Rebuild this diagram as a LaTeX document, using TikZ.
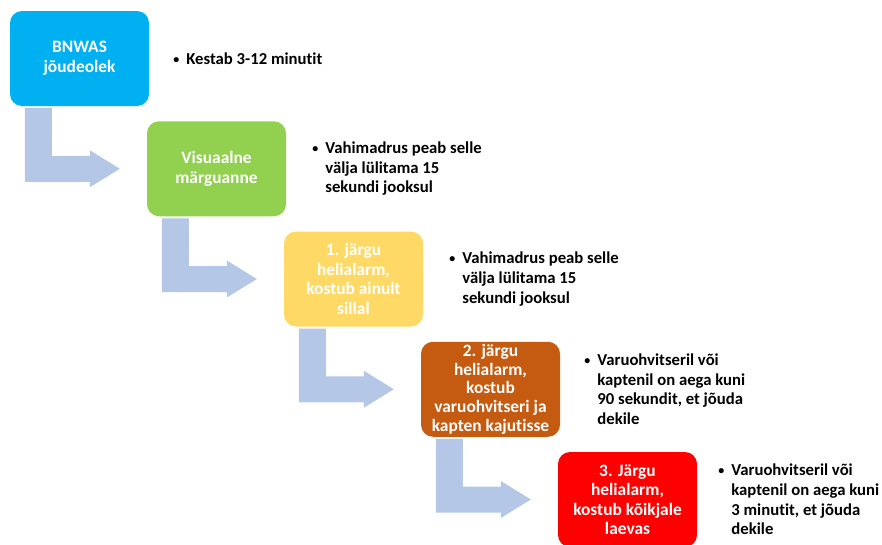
\documentclass[tikz,border=0pt]{standalone}
\usepackage{fontspec}
\setmainfont{Carlito}[Ligatures=NoCommon]
\usetikzlibrary{positioning,calc}

\definecolor{idleblue}{HTML}{00B0F0}
\definecolor{visgreen}{HTML}{92D050}
\definecolor{firstyellow}{HTML}{FFD966}
\definecolor{secondorange}{HTML}{C55A11}
\definecolor{thirdred}{HTML}{FF0000}
\definecolor{bendblue}{HTML}{B4C7E7}

\newcommand{\notebullet}{\llap{{\fontsize{12}{12}\selectfont\raisebox{1pt}{\textbullet}}\hspace{7pt}}}

\begin{document}
\begin{tikzpicture}[
    x=1pt, y=-1pt,
    stage/.style={minimum width=139pt, minimum height=95pt, rounded corners=12pt, inner sep=0pt,
        text=white, align=center, font=\bfseries\fontsize{17.4}{19.5}\selectfont},
    note/.style={inner sep=0pt, align=left, font=\bfseries\fontsize{16.7}{19.7}\selectfont},
    bentarrow/.style={fill=bendblue}
]
\useasboundingbox (0,0) rectangle (882,544);

% Stages of the alarm, one step down and right each
\node[stage, fill=idleblue] (s1) at (0*137+79.5, 0*110.25+58.5) {BNWAS\\jõudeolek};
\node[stage, fill=visgreen] (s2) at (1*137+79.5, 1*110.25+58.5) {Visuaalne\\märguanne};
\node[stage, fill=firstyellow] (s3) at (2*137+79.5, 2*110.25+58.5) {1. järgu\\helialarm,\\kostub ainult\\sillal};
\node[stage, fill=secondorange, font=\bfseries\fontsize{17.4}{18.6}\selectfont] (s4) at (3*137+79.5, 3*110.25+58.5) {2. järgu\\helialarm,\\kostub\\varuohvitseri ja\\kapten kajutisse};
\node[stage, fill=thirdred] (s5) at (4*137+79.5, 4*110.25+58.5) {3. Järgu\\helialarm,\\kostub kõikjale\\laevas};

% Notes beside each stage
\node[note, right=37pt of s1] (n1) {\notebullet Kestab 3-12 minutit};
\node[note, right=39pt of s2] (n2) {\notebullet Vahimadrus peab selle\\välja lülitama 15\\sekundi jooksul};
\node[note, right=39pt of s3] (n3) {\notebullet Vahimadrus peab selle\\välja lülitama 15\\sekundi jooksul};
\node[note, right=37pt of s4] (n4) {\notebullet Varuohvitseril või\\kaptenil on aega kuni\\90 sekundit, et jõuda\\dekile};
\node[note, right=34pt of s5] (n5) {\notebullet Varuohvitseril või\\kaptenil on aega kuni\\3 minutit, et jõuda\\dekile};

% Bent arrows from one stage to the next
\fill[bentarrow] ($(s1.south west)+(15,2)$) -- ($(s1.south west)+(42,2)$) -- ($(s2.west)+(-95,-13)$) -- ($(s2.west)+(-57,-13)$) -- ($(s2.west)+(-57,-18.5)$) -- ($(s2.west)+(-27,0)$) -- ($(s2.west)+(-57,18.5)$) -- ($(s2.west)+(-57,13)$) -- ($(s2.west)+(-122,13)$) -- cycle;
\fill[bentarrow] ($(s2.south west)+(15,2)$) -- ($(s2.south west)+(42,2)$) -- ($(s3.west)+(-95,-13)$) -- ($(s3.west)+(-57,-13)$) -- ($(s3.west)+(-57,-18.5)$) -- ($(s3.west)+(-27,0)$) -- ($(s3.west)+(-57,18.5)$) -- ($(s3.west)+(-57,13)$) -- ($(s3.west)+(-122,13)$) -- cycle;
\fill[bentarrow] ($(s3.south west)+(15,2)$) -- ($(s3.south west)+(42,2)$) -- ($(s4.west)+(-95,-13)$) -- ($(s4.west)+(-57,-13)$) -- ($(s4.west)+(-57,-18.5)$) -- ($(s4.west)+(-27,0)$) -- ($(s4.west)+(-57,18.5)$) -- ($(s4.west)+(-57,13)$) -- ($(s4.west)+(-122,13)$) -- cycle;
\fill[bentarrow] ($(s4.south west)+(15,2)$) -- ($(s4.south west)+(42,2)$) -- ($(s5.west)+(-95,-13)$) -- ($(s5.west)+(-57,-13)$) -- ($(s5.west)+(-57,-18.5)$) -- ($(s5.west)+(-27,0)$) -- ($(s5.west)+(-57,18.5)$) -- ($(s5.west)+(-57,13)$) -- ($(s5.west)+(-122,13)$) -- cycle;

\end{tikzpicture}
\end{document}
